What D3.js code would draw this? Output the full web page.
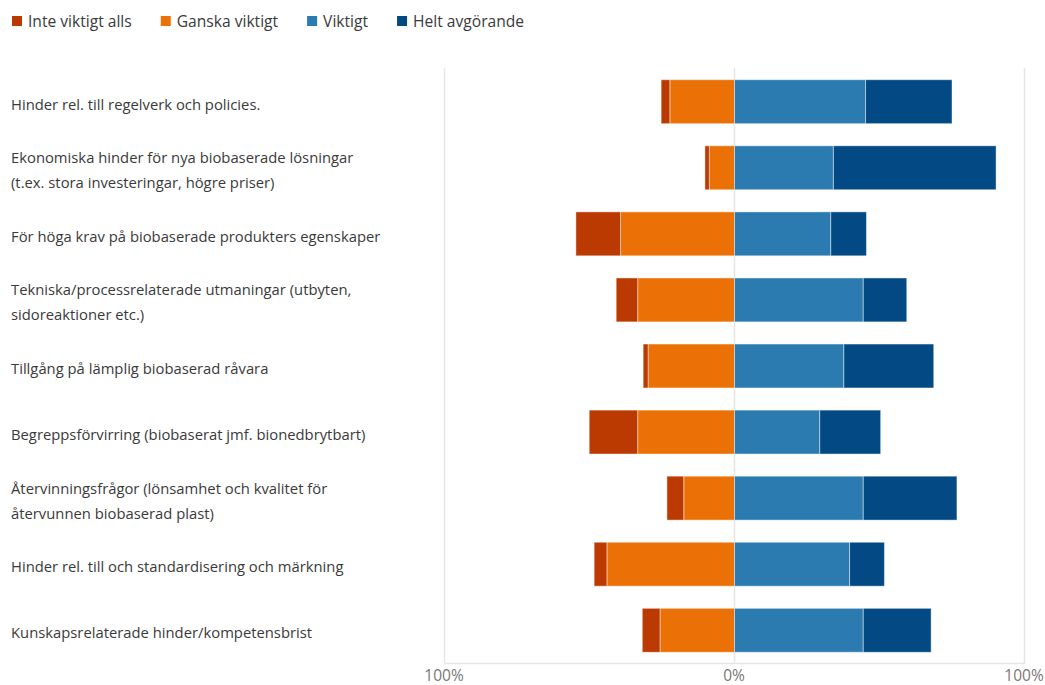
<!DOCTYPE html>
<html>
<head>
<meta charset="utf-8">
<script src="https://cdn.jsdelivr.net/npm/d3@7"></script>
<style>
  html, body { margin: 0; padding: 0; background: #fff; }
  svg { display: block; font-family: "Open Sans", "Noto Sans", sans-serif; }
</style>
</head>
<body>
<svg id="chart" width="1045" height="685"></svg>
<script>
// Categories (each entry is one row; inner arrays are the wrapped label lines)
const categories = [
  ["Hinder rel. till regelverk och policies."],
  ["Ekonomiska hinder för nya biobaserade lösningar", "(t.ex. stora investeringar, högre priser)"],
  ["För höga krav på biobaserade produkters egenskaper"],
  ["Tekniska/processrelaterade utmaningar (utbyten,", "sidoreaktioner etc.)"],
  ["Tillgång på lämplig biobaserad råvara"],
  ["Begreppsförvirring (biobaserat jmf. bionedbrytbart)"],
  ["Återvinningsfrågor (lönsamhet och kvalitet för", "återvunnen biobaserad plast)"],
  ["Hinder rel. till och standardisering och märkning"],
  ["Kunskapsrelaterade hinder/kompetensbrist"]
];

// Share of answers (%) per response level
const inteViktigtAlls = [3.0, 1.5, 15.4, 7.4, 1.7, 16.7, 5.8, 4.4, 6.1];
const ganskaViktigt   = [22.3, 8.7, 39.3, 33.4, 29.8, 33.4, 17.5, 44.0, 25.7];
const viktigt         = [45.2, 34.1, 33.2, 44.4, 37.7, 29.4, 44.4, 39.7, 44.4];
const heltAvgorande   = [29.8, 56.1, 12.3, 15.0, 31.0, 21.0, 32.3, 12.0, 23.4];

const seriesNames = ["Inte viktigt alls", "Ganska viktigt", "Viktigt", "Helt avgörande"];
const seriesColors = ["#bb3a02", "#eb7106", "#2b7bb1", "#034983"];

const tickValues = [-100, 0, 100];
const tickLabels = ["100%", "0%", "100%"];

const svg = d3.select("#chart");
const plot = { left: 444, right: 1024, top: 68, bottom: 663 };

const x = d3.scaleLinear().domain([-100, 100]).range([plot.left, plot.right]);
const y = d3.scaleBand()
  .domain(d3.range(categories.length))
  .range([plot.top, plot.bottom])
  .paddingInner(0.335)
  .paddingOuter(0.17);

// Frame: vertical grid lines at the ticks plus the bottom base line
const gridColor = "#e6e6e6";
svg.append("g")
  .selectAll("line")
  .data(tickValues)
  .join("line")
  .attr("x1", d => x(d) + 0.5).attr("x2", d => x(d) + 0.5)
  .attr("y1", plot.top).attr("y2", plot.bottom)
  .attr("stroke", gridColor).attr("stroke-width", 1.5);

svg.append("line")
  .attr("x1", plot.left).attr("x2", plot.right + 1)
  .attr("y1", plot.bottom + 0.5).attr("y2", plot.bottom + 0.5)
  .attr("stroke", gridColor).attr("stroke-width", 1.5);

// Build segment rectangles: negative levels extend left from 0, positive right
const rows = categories.map((c, i) => {
  const segs = [];
  const neg = [inteViktigtAlls[i], ganskaViktigt[i]];
  const pos = [viktigt[i], heltAvgorande[i]];
  // left side: "Ganska viktigt" touches zero, "Inte viktigt alls" is outermost
  segs.push({ s: 1, x0: -neg[1], x1: 0 });
  segs.push({ s: 0, x0: -neg[1] - neg[0], x1: -neg[1] });
  segs.push({ s: 2, x0: 0, x1: pos[0] });
  segs.push({ s: 3, x0: pos[0], x1: pos[0] + pos[1] });
  return { i, segs };
});

const barG = svg.append("g");
barG.selectAll("g")
  .data(rows)
  .join("g")
  .attr("transform", d => `translate(0,${y(d.i)})`)
  .selectAll("rect")
  .data(d => d.segs)
  .join("rect")
  .attr("x", d => x(d.x0) + 0.5)
  .attr("width", d => Math.max(0, x(d.x1) - x(d.x0)))
  .attr("y", 0.5)
  .attr("height", y.bandwidth())
  .attr("fill", d => seriesColors[d.s])
  .attr("stroke", "#ffffff")
  .attr("stroke-opacity", 0.45)
  .attr("stroke-width", 1);

// Category labels
const lineH = 25;
svg.append("g")
  .selectAll("text")
  .data(categories)
  .join("text")
  .attr("x", 11)
  .attr("y", (d, i) => y(i) + y.bandwidth() / 2 + 2.5 - (d.length - 1) * lineH / 2)
  .attr("fill", "#3a3a3a")
  .attr("font-size", 14.8)
  .attr("dominant-baseline", "central")
  .each(function(d) {
    const t = d3.select(this);
    d.forEach((line, k) => {
      t.append("tspan")
        .attr("x", 11)
        .attr("dy", k === 0 ? 0 : lineH)
        .text(line);
    });
  });

// Tick labels
svg.append("g")
  .selectAll("text")
  .data(tickValues)
  .join("text")
  .attr("x", d => x(d))
  .attr("y", 681)
  .attr("text-anchor", "middle")
  .attr("fill", "#777777")
  .attr("font-size", 15.5)
  .text((d, i) => tickLabels[i]);

// Legend
const legend = svg.append("g");
let lx = 12;
seriesNames.forEach((name, i) => {
  legend.append("rect")
    .attr("x", lx).attr("y", 16)
    .attr("width", 10).attr("height", 10)
    .attr("fill", seriesColors[i]);
  const t = legend.append("text")
    .attr("x", lx + 16)
    .attr("y", 21)
    .attr("dominant-baseline", "central")
    .attr("fill", "#3a3a3a")
    .attr("font-size", 15.6)
    .text(name);
  lx += 16 + t.node().getComputedTextLength() + 29;
});
</script>
</body>
</html>
